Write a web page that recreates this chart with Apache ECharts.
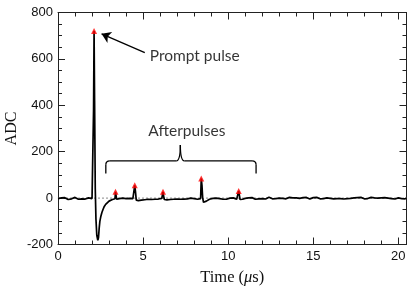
<!DOCTYPE html>
<html>
<head>
<meta charset="utf-8">
<script src="https://cdn.jsdelivr.net/npm/echarts@6/dist/echarts.min.js"></script>
<style>
html,body{margin:0;padding:0;background:#fff;}
#chart{width:415px;height:290px;}
</style>
</head>
<body>
<div id="chart"></div>
<script>
// ---- data ----
const xRange = [0, 20.48];          // time axis extent (µs)
const yRange = [-200, 800];         // ADC axis extent
const xTickLabels = [0, 5, 10, 15, 20];
const yTickLabels = [-200, 0, 200, 400, 600, 800];

const timeUs = [
  0.0,0.1,0.2,0.3,0.4,0.5,0.6,0.7,0.8,0.9,1.0,1.1,1.2,1.3,1.4,1.5,1.6,1.7,1.8,1.9,2.0,
  2.05,2.09,2.12,2.15,2.19,2.23,2.28,2.34,2.38,2.42,2.46,2.52,2.58,2.65,2.72,2.8,2.9,3.0,3.1,3.2,3.3,
  3.35,3.38,3.41,3.45,3.5,3.6,3.7,3.8,3.9,4.0,4.1,4.2,4.3,4.4,4.47,4.51,4.55,4.6,4.66,4.72,4.8,4.9,
  5.0,5.1,5.2,5.3,5.4,5.5,5.6,5.7,5.8,5.9,6.0,6.1,6.14,6.17,6.2,6.25,6.3,6.4,6.5,6.6,6.7,6.8,6.9,
  7.0,7.1,7.2,7.3,7.4,7.5,7.6,7.7,7.8,7.9,8.0,8.1,8.2,8.3,8.38,8.42,8.46,8.5,8.55,8.6,8.66,8.72,8.8,8.9,
  9.0,9.1,9.2,9.3,9.4,9.5,9.6,9.7,9.8,9.9,10.0,10.1,10.2,10.3,10.4,10.5,10.58,10.62,10.66,10.7,10.76,10.85,10.95,
  11.0,11.1,11.2,11.3,11.4,11.5,11.6,11.7,11.8,11.9,12.0,12.1,12.2,12.3,12.4,12.5,12.6,12.7,12.8,12.9,
  13.0,13.1,13.2,13.3,13.4,13.5,13.6,13.7,13.8,13.9,14.0,14.1,14.2,14.3,14.4,14.5,14.6,14.7,14.8,14.9,
  15.0,15.1,15.2,15.3,15.4,15.5,15.6,15.7,15.8,15.9,16.0,16.1,16.2,16.3,16.4,16.5,16.6,16.7,16.8,16.9,
  17.0,17.1,17.2,17.3,17.4,17.5,17.6,17.7,17.8,17.9,18.0,18.1,18.2,18.3,18.4,18.5,18.6,18.7,18.8,18.9,
  19.0,19.1,19.2,19.3,19.4,19.5,19.6,19.7,19.8,19.9,20.0,20.1,20.2,20.3,20.4,20.48
];
const adc = [
  -2,-5,1,-4,2,-1,-6,0,-3,-5,3,-2,-5,1,-3,2,-4,-1,1,-5,-2,
  0,380,720,420,40,-90,-160,-182,-170,-130,-100,-78,-62,-48,-36,-27,-19,-13,-9,-6,-5,
  -3,27,12,-5,-8,-2,-7,0,-5,-2,-6,-1,-4,-2,-3,55,30,-9,-14,-11,-7,-9,
  -3,-7,-1,-5,-2,-6,0,-5,-1,-4,-6,-1,-3,27,10,-6,-3,-8,-2,-6,0,-5,-2,
  -4,1,-5,-2,-4,1,-3,-6,0,-4,-2,1,-5,-1,-2,84,55,2,-18,-24,-19,-13,-10,-5,
  -6,-1,-5,0,-4,-2,1,-5,-1,-5,-2,0,-4,1,-3,-5,-1,31,12,-6,-9,-5,-4,
  -1,-4,1,-3,2,-2,-5,1,-3,3,-2,1,-4,0,4,-1,-3,2,-2,3,
  0,-4,-1,2,-3,0,3,-2,1,-4,1,4,-1,-3,2,-2,3,0,-4,-1,
  2,-2,3,-1,-3,2,-2,-4,1,-3,-1,2,-3,0,-2,3,-2,1,-4,1,
  -2,2,-1,-4,1,-3,2,-2,3,-1,-3,2,-2,1,3,-2,1,-3,0,4,
  1,-2,2,-3,0,3,-2,0,-4,-1,1,3,-2,2,-3,0
];

const peakTimes = [2.12, 3.38, 4.51, 6.17, 8.42, 10.62];
const peakAdc   = [720, 27, 55, 27, 84, 31];

const promptLabel = 'Prompt pulse';
const promptLabelAt = [5.39, 614];
const arrowFrom = [5.1, 627];
const arrowTo = [2.56, 708];

const afterLabel = 'Afterpulses';
const afterLabelAt = [7.57, 288];
const braceX = [2.81, 7.19, 11.64];    // left end, tip, right end (µs)
const braceY = [106, 160.6, 228.6];    // end bottoms, bar level, tip (ADC)

// ---- chart ----
const trace = timeUs.map((t, i) => [t, adc[i]]);
const peaks = peakTimes.map((t, i) => [t, peakAdc[i]]);

const chart = echarts.init(document.getElementById('chart'), null, {renderer: 'canvas'});

const axisCol = '#222';
const tickFont = {fontFamily: 'Liberation Sans', fontSize: 13, color: '#111'};

function xAx(pos, interval, len, withLine, withLabels) {
  return {
    type: 'value', position: pos, min: xRange[0], max: xRange[1], interval: interval,
    axisLine: {show: withLine, onZero: false, lineStyle: {color: axisCol, width: 1}},
    axisTick: {show: true, inside: true, length: len, lineStyle: {color: axisCol, width: 1}},
    axisLabel: withLabels ? Object.assign({
      show: true, margin: 5, showMaxLabel: false,
      formatter: v => (xTickLabels.indexOf(v) >= 0 ? String(v) : '')
    }, tickFont) : {show: false},
    splitLine: {show: false}
  };
}
function yAx(pos, withLabels) {
  return {
    type: 'value', position: pos, min: yRange[0], max: yRange[1], interval: 200,
    axisLine: {show: true, onZero: false, lineStyle: {color: axisCol, width: 1}},
    axisTick: {show: true, inside: true, length: 7, lineStyle: {color: axisCol, width: 1}},
    minorTick: {show: true, splitNumber: 4, length: 4, lineStyle: {color: axisCol, width: 1}},
    axisLabel: withLabels ? Object.assign({
      show: true, margin: 5,
      formatter: v => (yTickLabels.indexOf(v) >= 0 ? String(v) : '')
    }, tickFont) : {show: false},
    splitLine: {show: false}
  };
}

const xAxes = [
  xAx('bottom', 5, 7, true, true),
  xAx('bottom', 1, 4, false, false),
  xAx('top', 5, 7, true, false),
  xAx('top', 1, 4, false, false)
];
xAxes[0].name = '{n|Time (}{i|μ}{n|s)}';
xAxes[0].nameLocation = 'middle';
xAxes[0].nameGap = 25;
xAxes[0].nameTextStyle = {
  rich: {
    n: {fontFamily: 'Liberation Serif', fontSize: 16.5, color: '#111'},
    i: {fontFamily: 'Liberation Serif', fontSize: 16.5, fontStyle: 'italic', color: '#111'}
  }
};
const yAxes = [yAx('left', true), yAx('right', false)];
yAxes[0].name = 'ADC';
yAxes[0].nameLocation = 'middle';
yAxes[0].nameGap = 38;
yAxes[0].nameMoveOverlap = false;
yAxes[0].nameTextStyle = {fontFamily: 'Liberation Serif', fontSize: 16, color: '#111'};

function braceRender(params, api) {
  const L = api.coord([braceX[0], braceY[1]]);
  const M = api.coord([braceX[1], braceY[1]]);
  const R = api.coord([braceX[2], braceY[1]]);
  const yEnd = api.coord([braceX[0], braceY[0]])[1];
  const yTip = api.coord([braceX[1], braceY[2]])[1];
  const y = L[1], r = 4;
  const st = {stroke: '#000', lineWidth: 1.3, fill: null};
  const seg = (x1, y1, x2, y2) => ({type: 'line', shape: {x1, y1, x2, y2}, style: st});
  const q = (x1, y1, cx, cy, x2, y2) => ({type: 'bezierCurve', shape: {x1, y1, x2, y2, cpx1: cx, cpy1: cy}, style: st});
  return {
    type: 'group',
    children: [
      seg(L[0], yEnd, L[0], y + r),
      q(L[0], y + r, L[0], y, L[0] + r, y),
      seg(L[0] + r, y, M[0] - r, y),
      q(M[0] - r, y, M[0], y, M[0], yTip),
      q(M[0], yTip, M[0], y, M[0] + r, y),
      seg(M[0] + r, y, R[0] - r, y),
      q(R[0] - r, y, R[0], y, R[0], y + r),
      seg(R[0], y + r, R[0], yEnd)
    ]
  };
}

const labelFont = {fontFamily: 'Lato', fontSize: 15.5, color: '#000'};

chart.setOption({
  animation: false,
  backgroundColor: '#fff',
  grid: {left: 58, right: 8.5, top: 12.5, bottom: 45.5, containLabel: false, outerBoundsMode: 'none'},
  xAxis: xAxes,
  yAxis: yAxes,
  series: [
    {
      name: 'zero', type: 'line', xAxisIndex: 0, yAxisIndex: 0, z: 1,
      data: [[xRange[0], 0], [xRange[1], 0]],
      showSymbol: false, silent: true,
      lineStyle: {color: '#888', width: 1, type: [2, 2]}
    },
    {
      name: 'trace', type: 'line', xAxisIndex: 0, yAxisIndex: 0, z: 3,
      data: trace, showSymbol: false, silent: true,
      lineStyle: {color: '#000', width: 1.7}
    },
    {
      name: 'peaks', type: 'scatter', xAxisIndex: 0, yAxisIndex: 0, z: 4,
      data: peaks, symbol: 'triangle', symbolSize: [6, 6],
      itemStyle: {color: '#ff0000'}, silent: true
    },
    {
      name: 'labels', type: 'scatter', xAxisIndex: 0, yAxisIndex: 0, z: 5,
      symbolSize: 0, silent: true,
      data: [
        {value: promptLabelAt, label: {show: true, position: 'right', distance: 0, formatter: promptLabel}},
        {value: afterLabelAt, label: {show: true, position: 'inside', formatter: afterLabel}}
      ],
      label: labelFont,
      markLine: {
        silent: true, animation: false,
        symbol: ['none', 'arrow'], symbolSize: 9,
        lineStyle: {color: '#000', width: 1.3, type: 'solid'},
        label: {show: false},
        data: [[{coord: arrowFrom}, {coord: arrowTo}]]
      }
    },
    {
      name: 'brace', type: 'custom', xAxisIndex: 0, yAxisIndex: 0, z: 5,
      silent: true,
      data: [[braceX[1], braceY[1]]],
      renderItem: braceRender
    }
  ]
});
</script>
</body>
</html>
